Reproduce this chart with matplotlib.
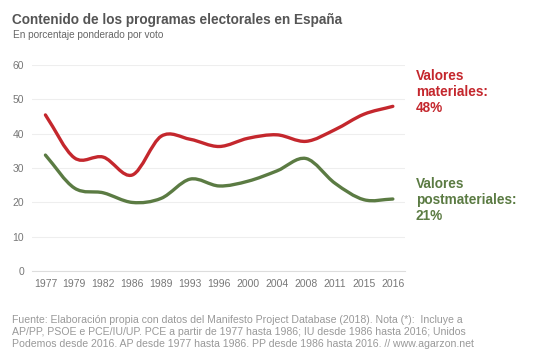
import numpy as np
import matplotlib
matplotlib.use("Agg")
from matplotlib import pyplot as plt
from matplotlib.path import Path
from matplotlib.patches import PathPatch

years = ['1977', '1979', '1982', '1986', '1989', '1993', '1996',
         '2000', '2004', '2008', '2011', '2015', '2016']
materiales = [45.5, 33.0, 33.2, 28.0, 39.3, 38.4, 36.3, 38.7, 39.7, 37.8, 41.2, 45.7, 48.0]
postmateriales = [33.8, 24.2, 22.8, 20.0, 21.2, 26.8, 24.8, 26.2, 29.2, 32.8, 25.6, 20.8, 21.0]

red = '#c4272d'
green = '#5b7b43'
grey_txt = '#777777'

plt.rcParams['font.family'] = ['Liberation Sans', 'DejaVu Sans']


def smooth_path(xs, ys):
    # catmull-rom curve through the points, as bezier segments
    xs = np.asarray(xs, float)
    ys = np.asarray(ys, float)
    n = len(xs)
    verts = [(xs[0], ys[0])]
    codes = [Path.MOVETO]
    for i in range(n - 1):
        i0 = max(i - 1, 0)
        i3 = min(i + 2, n - 1)
        m1x = (xs[i + 1] - xs[i0]) / 2 if i > 0 else (xs[1] - xs[0])
        m1y = (ys[i + 1] - ys[i0]) / 2 if i > 0 else (ys[1] - ys[0])
        m2x = (xs[i3] - xs[i]) / 2 if i < n - 2 else (xs[-1] - xs[-2])
        m2y = (ys[i3] - ys[i]) / 2 if i < n - 2 else (ys[-1] - ys[-2])
        verts += [(xs[i] + m1x / 3, ys[i] + m1y / 3),
                  (xs[i + 1] - m2x / 3, ys[i + 1] - m2y / 3),
                  (xs[i + 1], ys[i + 1])]
        codes += [Path.CURVE4] * 3
    return Path(verts, codes)


fig = plt.figure(figsize=(5.4, 3.6), dpi=100)
ax = fig.add_axes([0.06, 0.247, 0.69, 0.572])

x = np.arange(len(years))
for vals, col in [(materiales, red), (postmateriales, green)]:
    ax.add_patch(PathPatch(smooth_path(x, vals), facecolor='none', edgecolor=col,
                           lw=2.4, capstyle='round', joinstyle='round', zorder=3))

ax.set_xlim(-0.45, len(years) - 1 + 0.42)
ax.set_ylim(0, 60)
ax.set_yticks(range(0, 61, 10))
ax.set_xticks(x)
ax.set_xticklabels(years)
ax.grid(axis='y', color='#eeeeee', lw=0.8)
ax.set_axisbelow(True)
for s in ['top', 'right', 'left']:
    ax.spines[s].set_visible(False)
ax.spines['bottom'].set_color('#dddddd')
ax.tick_params(length=0, labelsize=7.5, colors=grey_txt)
ax.tick_params(axis='y', pad=6)
ax.tick_params(axis='x', pad=6)

fig.text(12 / 540, 1 - 20 / 360, 'Contenido de los programas electorales en España',
         fontsize=9.8, fontweight='bold', color='#555555', va='center')
fig.text(13 / 540, 1 - 35 / 360, 'En porcentaje ponderado por voto',
         fontsize=7.2, color='#666666', va='center')

fig.text(416 / 540, 1 - 92 / 360, 'Valores\nmateriales:\n48%', fontsize=9.8,
         fontweight='bold', color=red, va='center', linespacing=1.2)
fig.text(416 / 540, 1 - 200 / 360, 'Valores\npostmateriales:\n21%', fontsize=9.8,
         fontweight='bold', color=green, va='center', linespacing=1.2)

fuente = ('Fuente: Elaboración propia con datos del Manifesto Project Database (2018). Nota (*):  Incluye a\n'
          'AP/PP, PSOE e PCE/IU/UP. PCE a partir de 1977 hasta 1986; IU desde 1986 hasta 2016; Unidos\n'
          'Podemos desde 2016. AP desde 1977 hasta 1986. PP desde 1986 hasta 2016. // www.agarzon.net')
fig.text(12 / 540, 1 - 332 / 360, fuente, fontsize=7.6, color='#999999',
         va='center', linespacing=1.3)

fig.savefig('out.png', dpi=100)
